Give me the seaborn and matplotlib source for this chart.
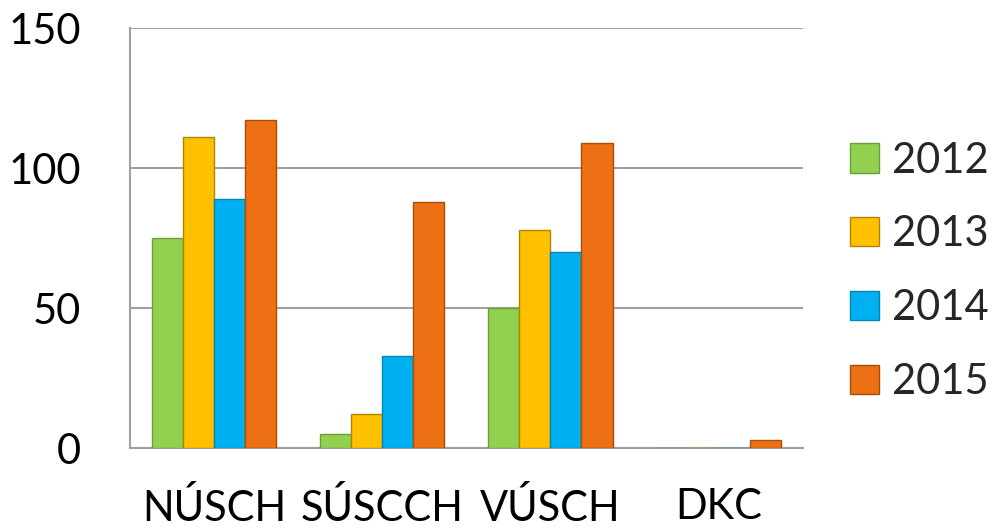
import matplotlib
matplotlib.use("Agg")
import matplotlib.pyplot as plt
import seaborn as sns
import pandas as pd
from matplotlib.patches import Patch

categories = ["NÚSCH", "SÚSCCH", "VÚSCH", "DKC"]
years = ["2012", "2013", "2014", "2015"]
v2012 = [75, 5, 50, 0]
v2013 = [111, 12, 78, 0]
v2014 = [89, 33, 70, 0]
v2015 = [117, 88, 109, 3]
colors = ["#92D050", "#FFC000", "#00B0F0", "#EE7014"]
edges = ["#6E9E3A", "#B08600", "#0085B5", "#A84E00"]

rows = []
for y, vals in zip(years, [v2012, v2013, v2014, v2015]):
    for c, v in zip(categories, vals):
        rows.append({"cat": c, "year": y, "val": v})
df = pd.DataFrame(rows)

sns.set_style("white")
plt.rcParams['font.family'] = ['Lato', 'DejaVu Sans']

fig = plt.figure(figsize=(9.92, 5.29), dpi=100)
ax = fig.add_axes([0.131, 0.153, 0.678, 0.794])
sns.barplot(data=df, x="cat", y="val", hue="year", palette=colors,
            saturation=1, width=0.74, ax=ax, legend=False, zorder=3)
for i, cont in enumerate(ax.containers):
    for p in cont:
        p.set_edgecolor(edges[i])
        p.set_linewidth(1.0)

ax.set_ylim(0, 150)
ax.set_yticks([0, 50, 100, 150])
ax.set_xlim(-0.5, 3.5)
ax.yaxis.grid(True, color="#A0A0A0", linewidth=1.5, zorder=0)
ax.set_axisbelow(True)
for s in ["top", "right"]:
    ax.spines[s].set_visible(False)
for s in ["left", "bottom"]:
    ax.spines[s].set_color("#A0A0A0")
    ax.spines[s].set_linewidth(1.5)
ax.tick_params(axis="y", length=4, color="#A0A0A0", width=1.5, labelsize=30,
               pad=31, labelcolor="black")
ax.tick_params(axis="x", length=0, labelsize=30, pad=29, labelcolor="black")
ax.set_xlabel("")
ax.set_ylabel("")

handles = [Patch(facecolor=c, edgecolor=e, label=y) for c, e, y in zip(colors, edges, years)]
fig.legend(handles=handles, loc="center left", bbox_to_anchor=(0.857, 0.487),
           frameon=False, fontsize=30, handlelength=0.7, handleheight=0.7,
           handletextpad=0.3, labelspacing=0.86, borderaxespad=0, borderpad=0)

fig.savefig("out.png", dpi=100)
